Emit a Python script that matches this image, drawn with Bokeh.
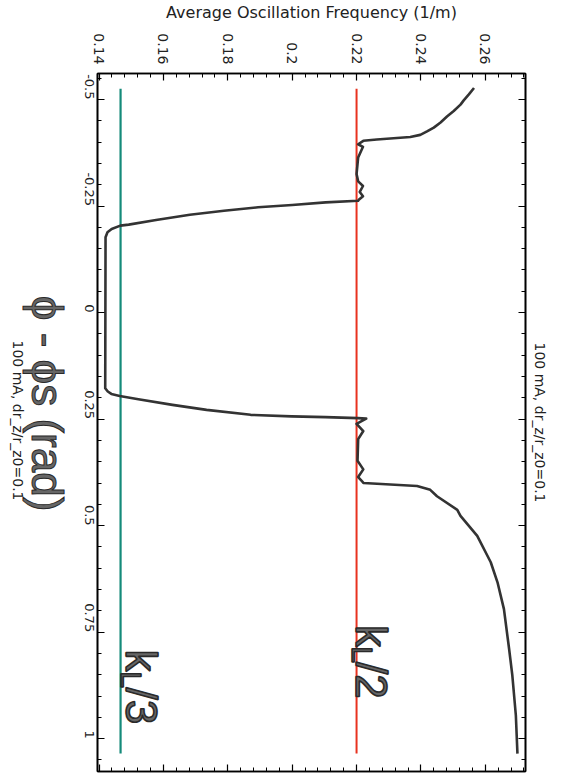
import numpy as np
from math import pi
from bokeh.plotting import figure
from bokeh.layouts import row
from bokeh.models import Range1d, LinearAxis, FixedTicker, CustomJSTickFormatter, Label
from bokeh.core.properties import value
from bokeh.embed import file_html
from bokeh.resources import INLINE

# ---- data (phase in rad, average oscillation frequency in 1/m) ----
phase = [-0.527, -0.512, -0.498, -0.488, -0.473, -0.460, -0.446, -0.434, -0.425, -0.417,
         -0.412, -0.409, -0.406, -0.403,
         -0.395, -0.389, -0.364, -0.325, -0.308, -0.297, -0.283, -0.273, -0.2645,
         -0.2624, -0.2586, -0.2523, -0.2470, -0.2390, -0.2297, -0.2173, -0.2063, -0.2040,
         -0.1963, -0.1886, -0.1769,
         0.1776, 0.1853, 0.1909, 0.1956, 0.2033, 0.2166, 0.2283, 0.2400, 0.2437, 0.2453, 0.2477,
         0.2488, 0.261, 0.278, 0.297, 0.348, 0.368, 0.386, 0.395, 0.400,
         0.407, 0.416, 0.431, 0.463, 0.477, 0.524, 0.586, 0.633, 0.696, 0.789, 0.851, 0.945, 1.035]
freq = [0.2565, 0.2549, 0.2533, 0.2523, 0.2502, 0.2481, 0.2461, 0.2440, 0.2419, 0.2398,
        0.2367, 0.2315, 0.2263, 0.2221,
        0.2205, 0.2220, 0.2205, 0.2200, 0.2205, 0.2220, 0.2210, 0.2220, 0.2207,
        0.2205, 0.2104, 0.2000, 0.1894, 0.1788, 0.1682, 0.1577, 0.1492, 0.1466,
        0.1439, 0.1426, 0.1420,
        0.1419, 0.1427, 0.1438, 0.1464, 0.1522, 0.1628, 0.1734, 0.1871, 0.1998, 0.2103, 0.2204,
        0.2230, 0.2200, 0.2221, 0.2205, 0.2203, 0.2221, 0.2205, 0.2216, 0.2222,
        0.2388, 0.2429, 0.2450, 0.2513, 0.2523, 0.2575, 0.2617, 0.2638, 0.2658, 0.2674, 0.2684, 0.2695, 0.2700]
k_L = 0.44
ref_phase = [-0.525, 1.035]
freq_ticks = [0.14, 0.16, 0.18, 0.20, 0.22, 0.24, 0.26]
phase_ticks = [-0.5, -0.25, 0.0, 0.25, 0.5, 0.75, 1.0]
freq_minor = [round(v, 4) for v in np.arange(0.136, 0.2761, 0.004)]
phase_minor = [round(v, 3) for v in np.arange(-0.55, 1.0751, 0.05)]
note = "100 mA, dr_z/r_z0=0.1"
phase_label = "\u03d5 - \u03d5s (rad)"

FONT = "Liberation Sans"
TFONT = "DejaVu Sans"
H = 776
LEFT_W = 73
TOP = 69

# ---------------- main plot ----------------
p = figure(width=565 - LEFT_W, height=H, output_backend="svg", toolbar_location=None,
           x_range=Range1d(0.1395, 0.2725), y_range=Range1d(1.077, -0.561),
           x_axis_location=None, y_axis_location=None,
           min_border_left=24, min_border_right=40, min_border_top=TOP, min_border_bottom=5)
p.grid.visible = False
p.outline_line_color = "black"
p.outline_line_width = 1.6
p.background_fill_color = "white"
p.border_fill_color = "white"

fmt = CustomJSTickFormatter(code="return String(parseFloat(tick.toFixed(4)));")
blank = CustomJSTickFormatter(code="return '';")


def make_axis(ticks, minors, labels=True):
    ax = LinearAxis(ticker=FixedTicker(ticks=ticks, minor_ticks=minors),
                    formatter=fmt if labels else blank)
    ax.major_tick_in = 7
    ax.major_tick_out = 0
    ax.minor_tick_in = 4
    ax.minor_tick_out = 0
    ax.axis_line_color = "black"
    ax.axis_line_width = 1.6
    ax.major_tick_line_width = 1.2
    ax.minor_tick_line_width = 1
    ax.major_label_text_font = TFONT
    ax.major_label_text_color = "#222222"
    if labels:
        ax.major_label_orientation = -pi / 2
        ax.major_label_text_font_size = "14px"
        ax.major_label_standoff = 9
    else:
        ax.major_label_text_color = None
        ax.major_label_standoff = 0
    return ax


top = make_axis(freq_ticks, freq_minor)
top.axis_label = "Average Oscillation Frequency (1/m)"
top.axis_label_text_font = TFONT
top.axis_label_text_font_style = "normal"
top.axis_label_text_font_size = "16px"
top.axis_label_text_color = "#222222"
top.axis_label_standoff = 8
p.add_layout(top, "above")
p.add_layout(make_axis(freq_ticks, freq_minor, labels=False), "below")

left = make_axis(phase_ticks, phase_minor)
left.major_label_text_font_size = "13px"
left.major_label_standoff = 8
p.add_layout(left, "left")

right = make_axis(phase_ticks, phase_minor, labels=False)
right.axis_label = note
right.axis_label_text_font = TFONT
right.axis_label_text_font_style = "normal"
right.axis_label_text_font_size = "14px"
right.axis_label_text_color = "#222222"
right.axis_label_standoff = 6
p.add_layout(right, "right")

# reference lines k_L/2 and k_L/3
p.line([k_L / 2, k_L / 2], ref_phase, line_color="#e8321f", line_width=2)
p.line([k_L / 3, k_L / 3], ref_phase, line_color="#158a7a", line_width=2.2)

# frequency curve
p.line(freq, phase, line_color="#333333", line_width=2.6, line_join="round")

big = dict(angle=-pi / 2, text_font=FONT, text_color="#666666",
           text_outline_color="#2a2a2a", text_baseline="alphabetic", text_align="left")
# k_L/2
p.add_layout(Label(x=k_L / 2 + 0.0048, y=0.7330, text="k", text_font_size="44px", **big))
p.add_layout(Label(x=k_L / 2 + 0.0017, y=0.7830, text="L", text_font_size="30px", **big))
p.add_layout(Label(x=k_L / 2 + 0.0048, y=0.8200, text="/2", text_font_size="44px", **big))
# k_L/3
p.add_layout(Label(x=k_L / 3 + 0.0064, y=0.7906, text="k", text_font_size="44px", **big))
p.add_layout(Label(x=k_L / 3 + 0.0033, y=0.8420, text="L", text_font_size="30px", **big))
p.add_layout(Label(x=k_L / 3 + 0.0064, y=0.8800, text="/3", text_font_size="44px", **big))

# ---------------- left strip holding the rotated axis title and note ----------------
# its frame is aligned with the main frame (top at TOP, bottom at H-5)
pl = figure(width=LEFT_W, height=H, output_backend="svg", toolbar_location=None,
            x_range=Range1d(0, LEFT_W), y_range=Range1d(H - 5, TOP),
            x_axis_location=None, y_axis_location=None,
            min_border_left=0, min_border_right=0, min_border_top=0, min_border_bottom=0)
pl.grid.visible = False
pl.outline_line_color = None
pl.background_fill_color = "white"
pl.border_fill_color = "white"
pl.text(x=[47], y=[401], text=[phase_label], angle=-pi / 2,
        text_font=value(FONT), text_font_size=value("44px"), text_color="#666666",
        text_outline_color="#2a2a2a", text_align="center", text_baseline="middle")
pl.text(x=[17], y=[418], text=[note], angle=-pi / 2,
        text_font=value(TFONT), text_font_size=value("14px"), text_color="#222222",
        text_align="center", text_baseline="middle")

layout = row(pl, p, spacing=0)
open("out.html", "w").write(file_html(layout, INLINE))
